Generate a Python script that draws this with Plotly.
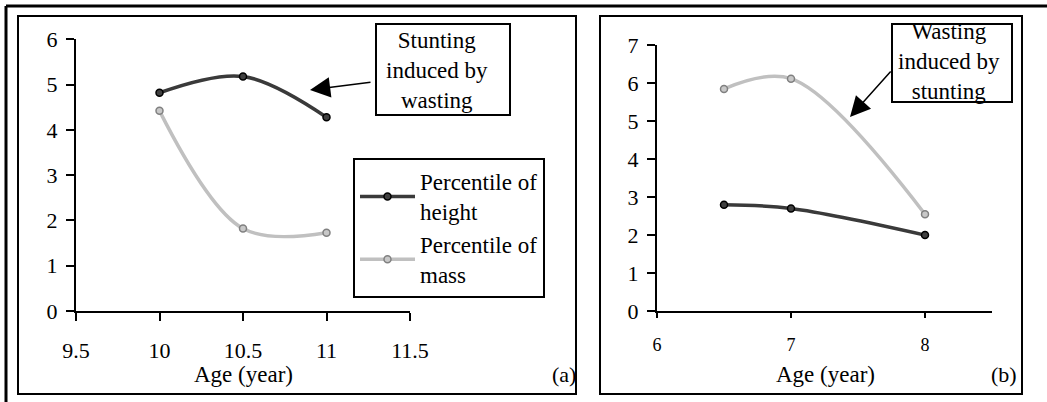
import plotly.graph_objects as go

# ---- data ----
age_a = [10, 10.5, 11]
height_a = [4.82, 5.18, 4.28]
mass_a = [4.42, 1.82, 1.73]

age_b = [6.5, 7, 8]
height_b = [2.8, 2.7, 2.0]
mass_b = [5.85, 6.12, 2.55]

xticks_a = [9.5, 10, 10.5, 11, 11.5]
yticks_a = [0, 1, 2, 3, 4, 5, 6]
xticks_b = [6, 7, 8]
yticks_b = [0, 1, 2, 3, 4, 5, 6, 7]

W, H = 1047, 402
FONT = "Liberation Serif, DejaVu Serif, serif"


def px(x):
    return x / W


def py(y):
    return 1 - y / H


DARK = "#3a3a3a"
LIGHT = "#c0c0c0"

fig = go.Figure()

common_dark = dict(mode="lines+markers", line=dict(color=DARK, width=3.5, shape="spline"),
                   marker=dict(size=7, color="#404040", line=dict(color="#000000", width=1.5)))
common_light = dict(mode="lines+markers", line=dict(color=LIGHT, width=3.5, shape="spline"),
                    marker=dict(size=7, color="#c8c8c8", line=dict(color="#808080", width=1.5)))

fig.add_trace(go.Scatter(x=age_a, y=height_a, name="Percentile of<br>height", xaxis="x", yaxis="y",
                         **common_dark))
fig.add_trace(go.Scatter(x=age_a, y=mass_a, name="Percentile of<br>mass", xaxis="x", yaxis="y",
                         **common_light))
fig.add_trace(go.Scatter(x=age_b, y=mass_b, showlegend=False, xaxis="x2", yaxis="y2", **common_light))
fig.add_trace(go.Scatter(x=age_b, y=height_b, showlegend=False, xaxis="x2", yaxis="y2", **common_dark))

axis_common = dict(showline=True, linecolor="black", linewidth=2, ticks="outside", ticklen=8,
                   tickwidth=2, tickcolor="black", showgrid=False, zeroline=False, automargin=False,
                   tickfont=dict(family=FONT, size=22, color="black"))

fig.update_layout(
    width=W, height=H,
    margin=dict(l=0, r=0, t=0, b=0, pad=0),
    paper_bgcolor="white", plot_bgcolor="white",
    font=dict(family=FONT, color="black"),
    xaxis=dict(domain=[px(76), px(410)], range=[9.5, 11.5], tickvals=xticks_a,
               ticktext=[str(v) for v in xticks_a], anchor="y", ticklabelstandoff=11, **axis_common),
    yaxis=dict(domain=[py(311), py(39.3)], range=[0, 6], tickvals=yticks_a, anchor="x",
               ticklabelstandoff=4, **axis_common),
    xaxis2=dict(domain=[px(657), px(992)], range=[6, 8.5], tickvals=xticks_b, anchor="y2",
                ticklabelstandoff=11, **{**axis_common, "tickfont": dict(family=FONT, size=18, color="black"),
                                         "ticklen": 5}),
    yaxis2=dict(domain=[py(311), py(45.3)], range=[0, 7], tickvals=yticks_b, anchor="x2",
                ticklabelstandoff=4, **axis_common),
    showlegend=True,
    legend=dict(x=px(353), y=py(158), xanchor="left", yanchor="top",
                bordercolor="black", borderwidth=2, bgcolor="white",
                font=dict(family=FONT, size=23, color="black"), itemwidth=55,
                tracegroupgap=0),
)

shapes = [
    # outer frame
    dict(type="line", xref="paper", yref="paper", x0=px(6), x1=px(1047), y0=py(6), y1=py(6),
         line=dict(color="black", width=3)),
    dict(type="line", xref="paper", yref="paper", x0=px(6), x1=px(6), y0=py(6), y1=py(402),
         line=dict(color="black", width=3)),
    # panel boxes
    dict(type="rect", xref="paper", yref="paper", x0=px(18), x1=px(576), y0=py(394), y1=py(16),
         line=dict(color="black", width=2)),
    dict(type="rect", xref="paper", yref="paper", x0=px(600), x1=px(1022), y0=py(394), y1=py(16),
         line=dict(color="black", width=2)),
    # annotation boxes
    dict(type="rect", xref="paper", yref="paper", x0=px(376), x1=px(510), y0=py(115), y1=py(24),
         line=dict(color="black", width=2)),
    dict(type="rect", xref="paper", yref="paper", x0=px(892), x1=px(1012), y0=py(102), y1=py(24),
         line=dict(color="black", width=2)),
]
fig.update_layout(shapes=shapes)

ann_font = dict(family=FONT, size=23, color="black")
annotations = [
    dict(text="Stunting<br>induced by<br>wasting", xref="paper", yref="paper", x=px(437), y=py(70),
         showarrow=False, font=ann_font, xanchor="center", yanchor="middle"),
    dict(text="Wasting<br>induced by<br>stunting", xref="paper", yref="paper", x=px(949), y=py(62),
         showarrow=False, font=ann_font, xanchor="center", yanchor="middle"),
    # arrows
    dict(text="", xref="paper", yref="paper", x=px(310), y=py(90), ax=62, ay=-8,
         showarrow=True, arrowhead=2, arrowsize=2.7, arrowwidth=1.5, arrowcolor="black"),
    dict(text="", xref="paper", yref="paper", x=px(850), y=py(117), ax=42, ay=-47,
         showarrow=True, arrowhead=2, arrowsize=2.7, arrowwidth=1.5, arrowcolor="black"),
    # axis titles
    dict(text="Age (year)", xref="paper", yref="paper", x=px(243), y=py(374), showarrow=False,
         font=dict(family=FONT, size=23, color="black"), xanchor="center", yanchor="middle"),
    dict(text="Age (year)", xref="paper", yref="paper", x=px(825), y=py(374), showarrow=False,
         font=dict(family=FONT, size=23, color="black"), xanchor="center", yanchor="middle"),
    # panel labels
    dict(text="(a)", xref="paper", yref="paper", x=px(564), y=py(374), showarrow=False,
         font=dict(family=FONT, size=22, color="black"), xanchor="center", yanchor="middle"),
    dict(text="(b)", xref="paper", yref="paper", x=px(1004), y=py(374), showarrow=False,
         font=dict(family=FONT, size=22, color="black"), xanchor="center", yanchor="middle"),
]
fig.update_layout(annotations=annotations)

fig.write_html("out.html", config={"displayModeBar": False},
               post_script="document.body.style.margin='0';")
